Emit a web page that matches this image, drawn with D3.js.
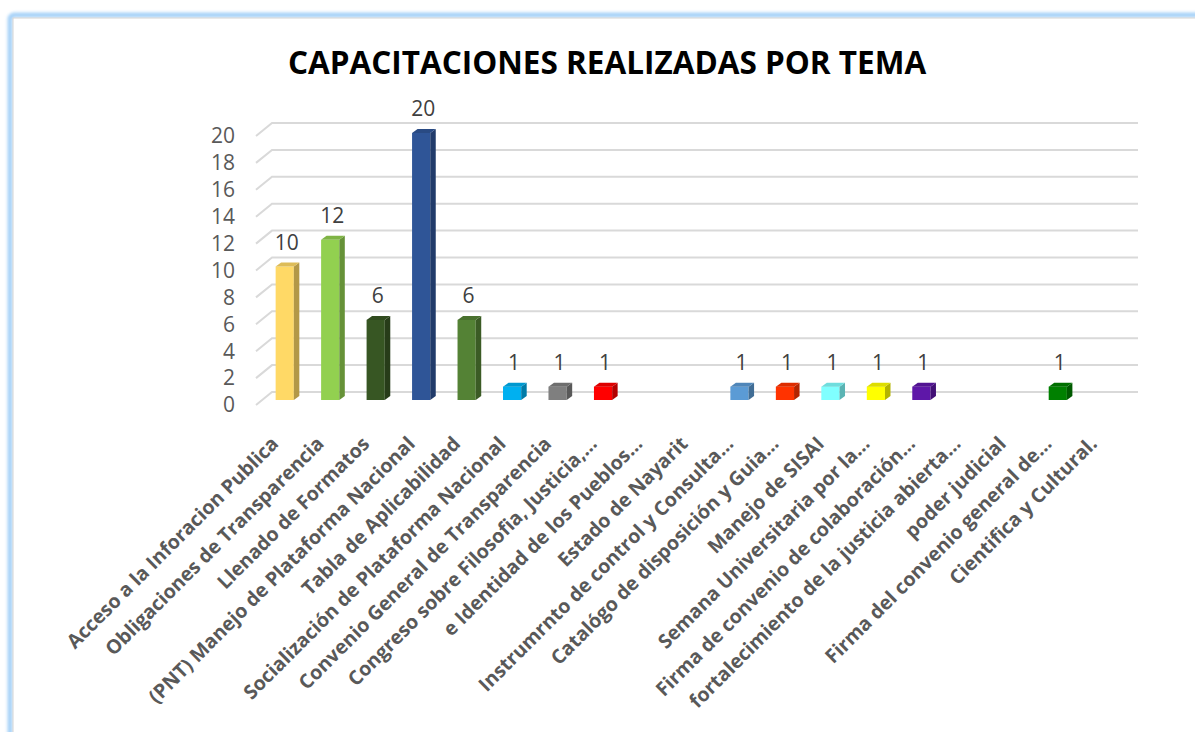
<!DOCTYPE html>
<html>
<head>
<meta charset="utf-8">
<script src="https://cdnjs.cloudflare.com/ajax/libs/d3/7.8.5/d3.min.js"></script>
<style>
  body { margin: 0; background: #ffffff; }
  svg { display: block; }
</style>
</head>
<body>
<svg id="chart1"></svg>
<script>
// data
var categories = [
  "Acceso a la Inforacion Publica",
  "Obligaciones de Transparencia",
  "Llenado de Formatos",
  "(PNT) Manejo de Plataforma Nacional",
  "Tabla de Aplicabilidad",
  "Socialización de Plataforma Nacional",
  "Convenio General de Transparencia",
  "Congreso sobre Filosofia, Justicia,…",
  "e Identidad de los Pueblos…",
  "Estado de Nayarit",
  "Instrumrnto de control y Consulta…",
  "Catalógo de disposición y Guia…",
  "Manejo de SISAI",
  "Semana Universitaria por la…",
  "Firma de convenio de colaboración…",
  "fortalecimiento de la justicia abierta…",
  "poder judicial",
  "Firma del convenio general de…",
  "Cientifica y Cultural."
];
var values = [10, 12, 6, 20, 6, 1, 1, 1, null, null, 1, 1, 1, 1, 1, null, null, 1, null];
var barColors = [
  "#FFD966", "#92D050", "#375623", "#2F5597", "#548235", "#00B0F0", "#7F7F7F",
  "#FF0000", null, null, "#5B9BD5", "#FF3300", "#80FFFF", "#FFFF00", "#5E17A8",
  null, null, "#008000", null
];
var yTicks = [0, 2, 4, 6, 8, 10, 12, 14, 16, 18, 20];
var title = "CAPACITACIONES REALIZADAS POR TEMA";

var W = 1195, H = 732;
var svg = d3.select('#chart1')
  .attr('width', W)
  .attr('height', H);

// frame with soft blue glow
var defs = svg.append('defs');
defs.append('filter').attr('id', 'glow')
  .attr('x', '-5%').attr('y', '-5%').attr('width', '110%').attr('height', '110%')
  .append('feGaussianBlur').attr('stdDeviation', 1.5);
svg.append('rect')
  .attr('x', 10).attr('y', 15).attr('width', 1220).attr('height', 760)
  .attr('rx', 4)
  .attr('fill', 'none')
  .attr('stroke', '#A7D2F8')
  .attr('stroke-width', 5)
  .attr('filter', 'url(#glow)');
svg.append('rect')
  .attr('x', 13).attr('y', 18).attr('width', 1220).attr('height', 760)
  .attr('fill', '#ffffff')
  .attr('stroke', '#D4D4D4')
  .attr('stroke-width', 1);

// scales
var x = d3.scaleBand()
  .domain(categories)
  .range([262, 1126])
  .paddingInner(0.6)
  .paddingOuter(0.3);
var yBack = d3.scaleLinear().domain([0, 20]).range([392, 123]);
var yBar = d3.scaleLinear().domain([0, 20]).range([400, 133]);
var depthX = 16, depthY = 13;   // wall depth
var bdx = 5.5, bdy = 4;         // bar depth

// gridlines on back wall with the floor stub
svg.append('g').selectAll('path')
  .data(yTicks)
  .enter()
  .append('path')
  .attr('d', function (v) {
    var yb = yBack(v);
    return 'M' + (272 - depthX) + ',' + (yb + depthY) + 'L272,' + yb + 'L1138,' + yb;
  })
  .attr('fill', 'none')
  .attr('stroke', '#D9D9D9')
  .attr('stroke-width', 2);

// y tick labels
svg.append('g').selectAll('text')
  .data(yTicks)
  .enter()
  .append('text')
  .attr('x', 235)
  .attr('y', function (v) { return yBack(v) + depthY; })
  .attr('dy', '0.35em')
  .attr('text-anchor', 'end')
  .attr('font-family', 'Open Sans')
  .attr('font-size', '21px')
  .attr('fill', '#595959')
  .text(function (v) { return v; });

var rows = categories.map(function (c, i) {
  return { cat: c, value: values[i], color: barColors[i] };
});
var withBars = rows.filter(function (d) { return d.value != null; });

var bars = svg.append('g').selectAll('g')
  .data(withBars)
  .enter()
  .append('g');

// front face
bars.append('rect')
  .attr('x', function (d) { return x(d.cat); })
  .attr('y', function (d) { return yBar(d.value); })
  .attr('width', x.bandwidth())
  .attr('height', function (d) { return yBar(0) - yBar(d.value); })
  .attr('fill', function (d) { return d.color; });

// side face
bars.append('path')
  .attr('d', function (d) {
    var x1 = x(d.cat) + x.bandwidth(), yt = yBar(d.value), y0 = yBar(0);
    return 'M' + x1 + ',' + yt + 'L' + (x1 + bdx) + ',' + (yt - bdy) +
      'L' + (x1 + bdx) + ',' + (y0 - bdy) + 'L' + x1 + ',' + y0 + 'Z';
  })
  .attr('fill', function (d) { return d3.color(d.color).darker(1).toString(); });

// top face
bars.append('path')
  .attr('d', function (d) {
    var x0 = x(d.cat), x1 = x0 + x.bandwidth(), yt = yBar(d.value);
    return 'M' + x0 + ',' + yt + 'L' + (x0 + bdx) + ',' + (yt - bdy) +
      'L' + (x1 + bdx) + ',' + (yt - bdy) + 'L' + x1 + ',' + yt + 'Z';
  })
  .attr('fill', function (d) { return d3.color(d.color).darker(0.4).toString(); });

// value labels
svg.append('g').selectAll('text')
  .data(withBars)
  .enter()
  .append('text')
  .attr('x', function (d) { return x(d.cat) + x.bandwidth() / 2 + 2; })
  .attr('y', function (d) { return yBar(d.value) - 24; })
  .attr('dy', '0.35em')
  .attr('text-anchor', 'middle')
  .attr('font-family', 'Open Sans')
  .attr('font-size', '21px')
  .attr('fill', '#404040')
  .text(function (d) { return d.value; });

// category labels, rotated
svg.append('g').selectAll('text')
  .data(categories)
  .enter()
  .append('text')
  .attr('transform', function (c) {
    return 'translate(' + (x(c) + x.bandwidth() / 2 - 5) + ',445) rotate(-45)';
  })
  .attr('text-anchor', 'end')
  .attr('font-family', 'Open Sans')
  .attr('font-weight', 700)
  .attr('font-size', '19.6px')
  .attr('fill', '#595959')
  .text(function (c) { return c; });

// title
svg.append('text')
  .attr('x', 607)
  .attr('y', 74)
  .attr('text-anchor', 'middle')
  .attr('font-family', 'Open Sans')
  .attr('font-weight', 700)
  .attr('font-size', '31.5px')
  .attr('fill', '#000000')
  .text(title);
</script>
</body>
</html>
